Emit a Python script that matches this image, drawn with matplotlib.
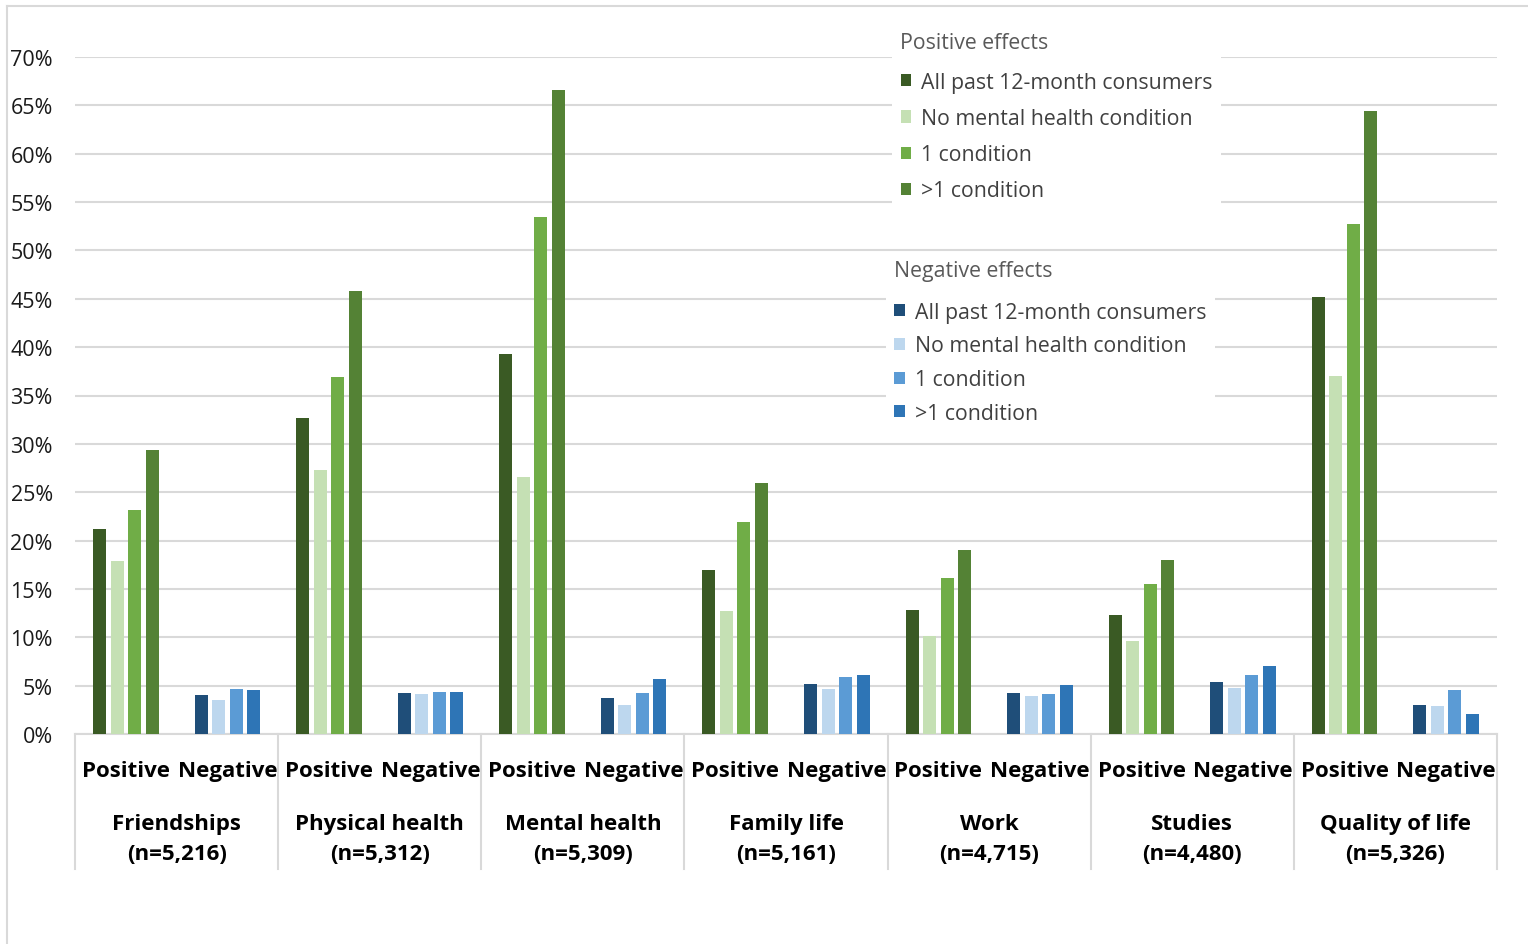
import numpy as np
import matplotlib
matplotlib.use('Agg')
from matplotlib import pyplot as plt
from matplotlib.lines import Line2D
import matplotlib.transforms as mtransforms

plt.rcParams['font.family'] = ['Open Sans', 'DejaVu Sans']

categories = ['Friendships', 'Physical health', 'Mental health', 'Family life',
              'Work', 'Studies', 'Quality of life']
sample_sizes = ['5,216', '5,312', '5,309', '5,161', '4,715', '4,480', '5,326']
effect_labels = ['Positive', 'Negative']
series_names = ['All past 12-month consumers', 'No mental health condition',
                '1 condition', '>1 condition']

# percent of respondents reporting each effect
positive_all = [21.2, 32.7, 39.3, 17.0, 12.8, 12.3, 45.2]
positive_none = [17.9, 27.3, 26.6, 12.7, 10.1, 9.6, 37.0]
positive_one = [23.2, 36.9, 53.5, 21.9, 16.1, 15.5, 52.7]
positive_multi = [29.4, 45.8, 66.6, 26.0, 19.0, 18.0, 64.4]

negative_all = [4.0, 4.2, 3.7, 5.2, 4.2, 5.4, 3.0]
negative_none = [3.5, 4.1, 3.0, 4.7, 3.9, 4.8, 2.9]
negative_one = [4.7, 4.3, 4.2, 5.9, 4.1, 6.1, 4.5]
negative_multi = [4.6, 4.3, 5.7, 6.1, 5.1, 7.0, 2.1]

positive_colors = ['#3A5A24', '#C5E0B4', '#70AD47', '#548235']
negative_colors = ['#1F4E79', '#BDD7EE', '#5B9BD5', '#2E75B6']

W, H = 1528, 945
fig = plt.figure(figsize=(W / 100, H / 100), dpi=100)
ax = fig.add_axes([75 / W, 1 - 735 / H, (1497 - 75) / W, (735 - 58) / H])

n = len(categories)
idx = np.arange(n)
pitch = 0.1723
width = 0.128

pos_series = [positive_all, positive_none, positive_one, positive_multi]
neg_series = [negative_all, negative_none, negative_one, negative_multi]

pos_bars = []
neg_bars = []
for k in range(4):
    off = (k - 1.5) * pitch
    pos_bars.append(ax.bar(idx * 2 + 0.5 + off, pos_series[k], width,
                           color=positive_colors[k], label=series_names[k], zorder=3))
for k in range(4):
    off = (k - 1.5) * pitch
    neg_bars.append(ax.bar(idx * 2 + 1.5 + off, neg_series[k], width,
                           color=negative_colors[k], label=series_names[k], zorder=3))

ax.set_xlim(0, 2 * n)
ax.set_ylim(0, 70)
ax.set_yticks(range(0, 71, 5))
ax.set_yticklabels([f'{v}%' for v in range(0, 71, 5)], fontsize=15.5, color='#1a1a1a')
ax.yaxis.grid(True, color='#D9D9D9', linewidth=1.5, zorder=0)
ax.set_axisbelow(True)
for s in ['top', 'right', 'left']:
    ax.spines[s].set_visible(False)
ax.spines['bottom'].set_color('#D9D9D9')
ax.spines['bottom'].set_linewidth(1.5)
ax.tick_params(axis='y', length=0, pad=16)

ax.set_xticks(np.arange(2 * n) + 0.5)
ax.set_xticklabels(effect_labels * n, fontsize=16, fontweight='bold')
ax.tick_params(axis='x', length=0, pad=19)

# category table below the axis
trans = mtransforms.blended_transform_factory(ax.transData, ax.transAxes)
table_depth = (870 - 735) / (735 - 58)
for i in range(n + 1):
    ax.plot([i * 2, i * 2], [0, -table_depth], transform=trans, color='#D9D9D9',
            linewidth=1.5, clip_on=False)
for i in range(n):
    ax.text(i * 2 + 1, -(839.5 - 735) / (735 - 58), f'{categories[i]}\n(n={sample_sizes[i]})',
            transform=trans, ha='center', va='center', fontsize=16, fontweight='bold',
            linespacing=1.57)

leg_kw = dict(loc='upper left', bbox_transform=fig.transFigure, frameon=True,
              facecolor='white', edgecolor='none', framealpha=1, fancybox=False,
              fontsize=15.3, title_fontsize=15.3, handlelength=0.5, handleheight=0.5,
              handletextpad=0.45, borderaxespad=0, alignment='left',
              labelcolor='#404040')
leg1 = ax.legend(handles=pos_bars, title='Positive effects', labelspacing=0.71,
                 bbox_to_anchor=(892 / W, 1 - 24 / H), **leg_kw)
leg1.get_title().set_color('#595959')
leg1._legend_box.sep = 14
ax.add_artist(leg1)
leg2 = ax.legend(handles=neg_bars, title='Negative effects', labelspacing=0.60,
                 bbox_to_anchor=(886 / W, 1 - 253 / H), **leg_kw)
leg2.get_title().set_color('#595959')
leg2._legend_box.sep = 14.5

# outer chart border
fig.add_artist(Line2D([7 / W, 7 / W], [0, 1 - 7 / H], color='#D9D9D9', linewidth=1.5))
fig.add_artist(Line2D([7 / W, 1], [1 - 7 / H, 1 - 7 / H], color='#D9D9D9', linewidth=1.5))

fig.savefig('out.png', dpi=100)
